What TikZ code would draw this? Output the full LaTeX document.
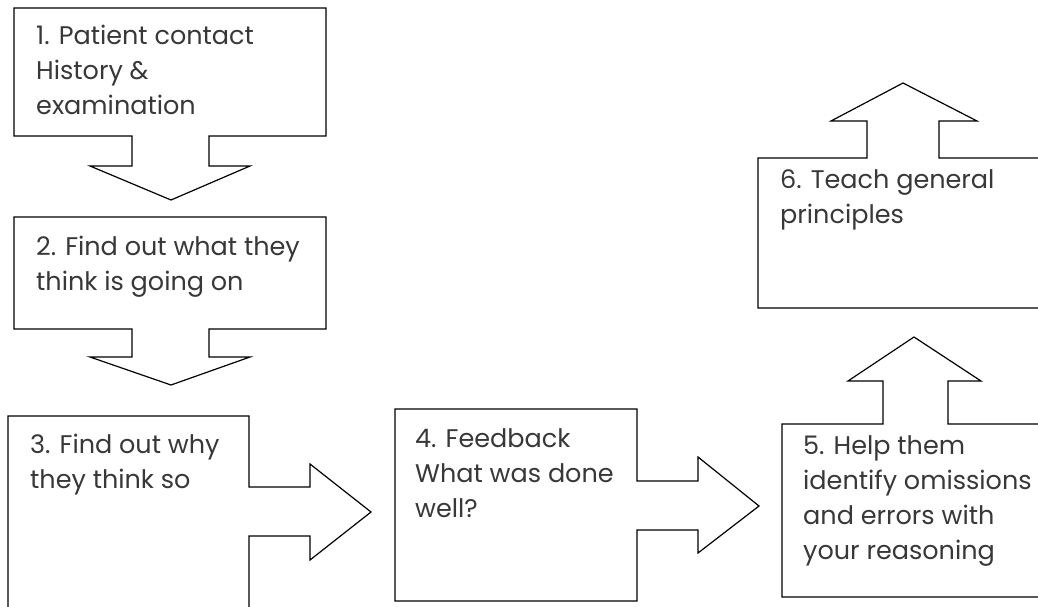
\documentclass[tikz,border=0pt]{standalone}
\usepackage{fontspec}
\setmainfont{Poppins}
\definecolor{txtgray}{rgb}{0.22,0.22,0.22}
\begin{document}
\begin{tikzpicture}[x=1pt,y=-1pt,
  callout/.style={draw=black,line width=1.2pt,fill=white,line join=miter},
  lbl/.style={anchor=north west,inner sep=0pt,align=left,text=txtgray,
    font=\fontsize{25.5}{35}\selectfont}]
\useasboundingbox (0,0) rectangle (1038,607);
\clip (0,0) rectangle (1038,607);
% 1
\draw[callout] (14,8) -- (326,8) -- (326,136) -- (209,136) -- (209,166) -- (250,166) -- (171,200) -- (90,166) -- (132,166) -- (132,136) -- (14,136) -- cycle;
\node[lbl] (t1) at (36,25) {1. Patient contact\\History \&\\examination};
% 2
\draw[callout] (14,217) -- (326,217) -- (326,329) -- (209,329) -- (209,357) -- (250,357) -- (171,385) -- (90,357) -- (132,357) -- (132,329) -- (14,329) -- cycle;
\node[lbl] (t2) at (36,236) {2. Find out what they\\think is going on};
% 3
\draw[callout] (8,416) -- (249,416) -- (249,487) -- (310,487) -- (310,464) -- (371,512) -- (310,560) -- (310,536) -- (249,536) -- (249,615) -- (8,615) -- cycle;
\node[lbl] (t3) at (30,434) {3. Find out why\\they think so};
% 4
\draw[callout] (395,409) -- (637,409) -- (637,481) -- (698,481) -- (698,457) -- (759,506) -- (698,553) -- (698,530) -- (637,530) -- (637,601) -- (395,601) -- cycle;
\node[lbl] (t4) at (415,428) {4. Feedback\\What was done\\well?};
% 5
\draw[callout] (782,424) -- (883,424) -- (883,381) -- (848,381) -- (914,337) -- (981,381) -- (948,381) -- (948,424) -- (1050,424) -- (1050,597) -- (782,597) -- cycle;
\node[lbl] (t5) at (803,435) {5. Help them\\identify omissions\\and errors with\\your reasoning};
% 6
\draw[callout] (758,158) -- (867,158) -- (867,121) -- (831,121) -- (903,83) -- (977,121) -- (939,121) -- (939,158) -- (1050,158) -- (1050,308) -- (758,308) -- cycle;
\node[lbl] (t6) at (780,169) {6. Teach general\\principles};
\end{tikzpicture}
\end{document}
